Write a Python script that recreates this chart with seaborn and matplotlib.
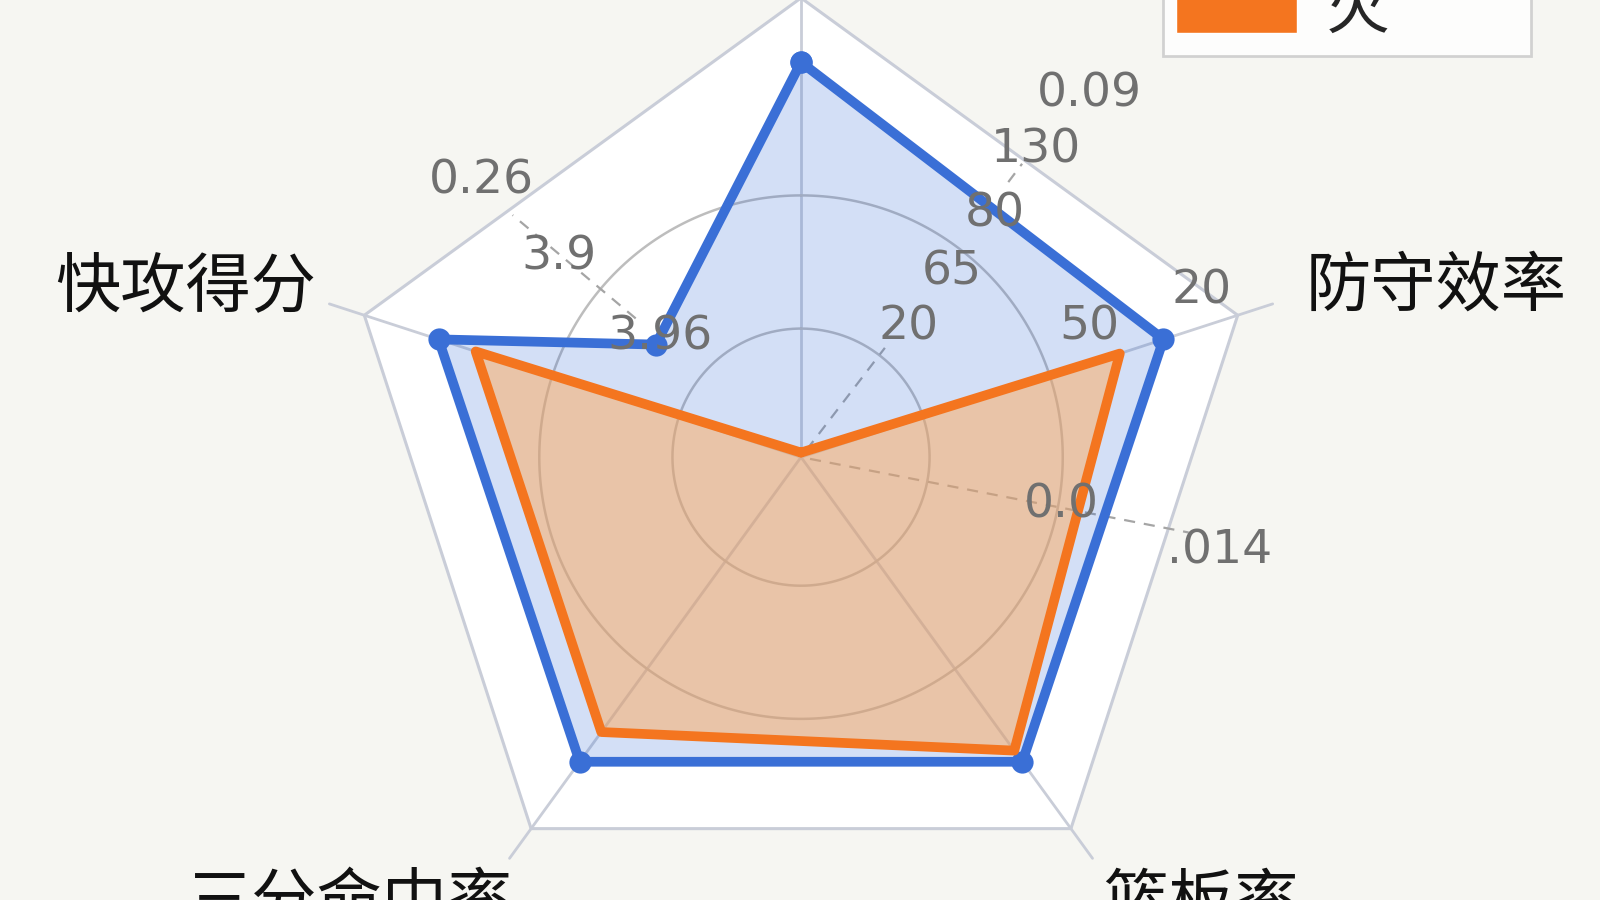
import numpy as np
import pandas as pd
import matplotlib
matplotlib.use("Agg")
import matplotlib.pyplot as plt
import seaborn as sns
from matplotlib.patches import Patch

# categories clockwise from the top spoke (top label is cut off in the reference)
categories = ["投篮命中率", "防守效率", "篮板率", "三分命中率", "快攻得分"]
series_names = ["勇士队", "火"]

# blue series has an extra vertex between 快攻得分 and the top spoke
blue_pos = [0, 1, 2, 3, 4, 4.275]
blue_vals = [0.86, 0.83, 0.82, 0.82, 0.83, 0.40]
orange_pos = [0, 1, 2, 3, 4]
orange_vals = [0.01, 0.73, 0.79, 0.74, 0.745]

ring_levels = [0.28, 0.57]
tick_texts = ["0.26", "3.9", "3.96", "0.09", "130", "80", "65", "20", "20", "50", "0.0", ".014"]

BLUE = "#3a6fd6"
ORANGE = "#f4751f"
GRID = "#c9cdd8"

sns.set_theme(style="white")
plt.rcParams["font.family"] = ["Noto Sans CJK SC", "DejaVu Sans"]

# layout is measured on a 1568x882 copy of the reference
W, H = 1568, 882
CX, CY, RPX = 785, 448, 450  # centre and frame radius in those pixels
RMAX = 1.2

fig = plt.figure(figsize=(16, 9), dpi=100, facecolor="#f6f6f2")
side = 2 * RMAX * RPX
ax = fig.add_axes([(CX - side / 2) / W, (H - CY - side / 2) / H, side / W, side / H],
                  projection="polar")
ax.set_theta_zero_location("N")
ax.set_theta_direction(-1)
ax.set_ylim(0, RMAX)
ax.patch.set_alpha(0)
ax.spines["polar"].set_visible(False)
ax.grid(False)
ax.set_xticks([])
ax.set_yticks([])

n = len(categories)
step = 2 * np.pi / n
spoke_theta = np.arange(n) * step

# pentagon frame filled white
frame_t = np.append(spoke_theta, spoke_theta[0])
ax.fill(frame_t, np.ones_like(frame_t), color="white", zorder=0)
ax.plot(frame_t, np.ones_like(frame_t), color=GRID, lw=2.2, zorder=1)

# spokes
for t in spoke_theta:
    ax.plot([t, t], [0, 1.08], color=GRID, lw=2, zorder=1)

# circular rings
ring_t = np.linspace(0, 2 * np.pi, 300)
for lv in ring_levels:
    ax.plot(ring_t, np.full_like(ring_t, lv), color="#bdbdbd", lw=1.8, zorder=1)

# dashed radial guides
for deg, r0, r1 in [(37.5, 0.02, 0.30), (101, 0.02, 0.86), (310, 0.47, 0.82), (37, 0.75, 0.80)]:
    th = np.deg2rad(deg)
    ax.plot([th, th], [r0, r1], color="#a5a5a5", lw=1.6, ls=(0, (5, 4)), zorder=1)

blue_df = pd.DataFrame({"theta": np.array(blue_pos + [blue_pos[0]]) * step,
                        "r": blue_vals + [blue_vals[0]]})
orange_df = pd.DataFrame({"theta": np.array(orange_pos + [orange_pos[0]]) * step,
                          "r": orange_vals + [orange_vals[0]]})

ax.fill(blue_df["theta"], blue_df["r"], color=BLUE, alpha=0.22, lw=0, zorder=2)
ax.fill(orange_df["theta"], orange_df["r"], color="#ffaa5b", alpha=0.5, lw=0, zorder=3)
sns.lineplot(data=blue_df, x="theta", y="r", sort=False, ax=ax, color=BLUE, lw=7,
             marker="o", markersize=16, markeredgewidth=0, zorder=4, estimator=None)
sns.lineplot(data=orange_df, x="theta", y="r", sort=False, ax=ax, color=ORANGE, lw=7,
             zorder=5, estimator=None)
ax.set_xlabel("")
ax.set_ylabel("")

# tick-like number labels (pixel centres)
tick_xy = [(472, 177), (548, 252), (647, 330), (1068, 92), (1015, 147), (975, 210),
           (933, 267), (890, 320), (1178, 285), (1068, 320), (1040, 495), (1195, 540)]
for txt, (x, y) in zip(tick_texts, tick_xy):
    fig.text(x / W, 1 - y / H, txt, ha="center", va="center", fontsize=34,
             color="#707070", family=["DejaVu Sans"], zorder=6)

# category labels (the top one lies above the visible area in the reference)
label_xy = [None, (1407, 282), (1177, 886), (343, 886), (182, 282)]
for txt, xy in zip(categories, label_xy):
    if xy is None:
        continue
    fig.text(xy[0] / W, 1 - xy[1] / H, txt, ha="center", va="center", fontsize=47,
             color="#111111")

handles = [Patch(facecolor=BLUE), Patch(facecolor=ORANGE)]
leg = fig.legend(handles, series_names, loc="lower right",
                 bbox_to_anchor=(1500 / W, 1 - 55 / H), borderaxespad=0, fontsize=46,
                 frameon=True, fancybox=False, edgecolor="#c8c8c8", handlelength=1.9,
                 handleheight=0.9, handletextpad=0.45, borderpad=0.2, labelspacing=0.3)
leg.get_frame().set_linewidth(2)

fig.savefig("out.png", dpi=100, facecolor=fig.get_facecolor())
